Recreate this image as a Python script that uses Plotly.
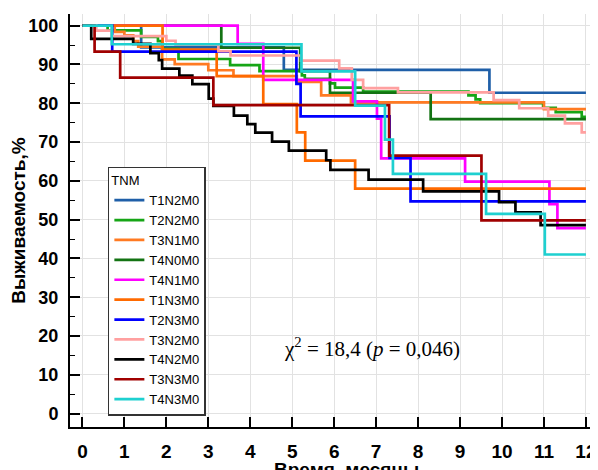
import plotly.graph_objects as go

# ---- data (months, survival %) ----
t_T1N2M0 = [0, 1.4, 4.8, 9.7, 12]
s_T1N2M0 = [100, 94.4, 88.6, 82.7, 82.7]

t_T2N2M0 = [0, 0.6, 1.4, 1.8, 1.9, 2.29, 3.52, 4.22, 5.23, 5.3, 5.9, 6.02, 6.69, 9.2, 9.37, 9.48, 10.98, 11.28, 11.9, 12]
s_T2N2M0 = [100, 98.8, 97.1, 96.0, 94.0, 91.4, 89.8, 88.3, 87.2, 86.3, 85.1, 84.0, 83.0, 82.0, 81.0, 80.0, 78.8, 77.7, 76.5, 76.5]

t_T3N1M0 = [0, 0.77, 1.0, 1.21, 1.33, 1.9, 2.2, 3.0, 3.6, 5.11, 5.69, 6.4, 11.0, 12]
s_T3N1M0 = [100, 98.4, 97.5, 96.0, 94.6, 91.3, 90.1, 88.5, 87.0, 85.5, 82.0, 80.2, 78.5, 78.5]

t_T4N0M0 = [0, 3.31, 5.19, 5.9, 8.3, 12]
s_T4N0M0 = [100, 94.3, 88.3, 82.7, 75.9, 75.9]

t_T4N1M0 = [0, 3.7, 4.31, 6.45, 7.02, 7.12, 9.12, 11.13, 11.32, 12]
s_T4N1M0 = [100, 95.3, 86.0, 80.5, 76.0, 65.8, 59.8, 54.0, 47.8, 47.8]

t_T1N3M0 = [0, 1.91, 3.2, 4.31, 5.11, 5.31, 6.5, 12]
s_T1N3M0 = [100, 93.8, 87.0, 79.8, 72.5, 65.2, 58.0, 58.0]

t_T2N3M0 = [0, 0.71, 5.1, 5.2, 7.32, 7.82, 12]
s_T2N3M0 = [100, 93.3, 85.0, 76.6, 65.9, 54.7, 54.7]

t_T3N2M0 = [0, 0.33, 0.70, 2.0, 2.22, 3.24, 3.53, 5.21, 6.12, 6.42, 6.69, 7.52, 9.8, 10.41, 11.1, 11.5, 11.9, 12]
s_T3N2M0 = [100, 98.7, 97.3, 96.1, 95.1, 93.4, 92.3, 91.0, 89.0, 86.0, 83.9, 82.8, 80.8, 78.7, 76.8, 74.8, 72.5, 72.5]

t_T4N2M0 = [0, 0.21, 1.21, 1.62, 1.82, 1.90, 2.31, 2.62, 3.01, 3.12, 3.61, 3.93, 4.12, 4.52, 4.92, 5.81, 5.91, 6.82, 8.12, 9.93, 10.32, 10.92, 12]
s_T4N2M0 = [100, 96.6, 95.3, 92.9, 91.1, 88.9, 87.1, 84.9, 81.2, 79.3, 76.8, 74.6, 72.4, 70.1, 67.8, 65.3, 62.8, 60.3, 57.3, 54.5, 51.9, 48.6, 48.6]

t_T3N3M0 = [0, 0.29, 0.9, 3.12, 7.31, 9.51, 12]
s_T3N3M0 = [100, 93.3, 86.6, 79.5, 66.5, 49.8, 49.8]

t_T4N3M0 = [0, 0.70, 5.22, 6.5, 7.21, 7.40, 9.62, 11.02, 12]
s_T4N3M0 = [100, 95.2, 88.2, 79.4, 70.6, 61.8, 51.5, 41.0, 41.0]

groups = ["T1N2M0", "T2N2M0", "T3N1M0", "T4N0M0", "T4N1M0", "T1N3M0",
          "T2N3M0", "T3N2M0", "T4N2M0", "T3N3M0", "T4N3M0"]
series = {
    "T1N2M0": (t_T1N2M0, s_T1N2M0),
    "T2N2M0": (t_T2N2M0, s_T2N2M0),
    "T3N1M0": (t_T3N1M0, s_T3N1M0),
    "T4N0M0": (t_T4N0M0, s_T4N0M0),
    "T4N1M0": (t_T4N1M0, s_T4N1M0),
    "T1N3M0": (t_T1N3M0, s_T1N3M0),
    "T2N3M0": (t_T2N3M0, s_T2N3M0),
    "T3N2M0": (t_T3N2M0, s_T3N2M0),
    "T4N2M0": (t_T4N2M0, s_T4N2M0),
    "T3N3M0": (t_T3N3M0, s_T3N3M0),
    "T4N3M0": (t_T4N3M0, s_T4N3M0),
}
colors = {
    "T1N2M0": "#1f5fa8", "T2N2M0": "#16a516", "T3N1M0": "#ff7a22",
    "T4N0M0": "#137313", "T4N1M0": "#ff00ff", "T1N3M0": "#ff6a00",
    "T2N3M0": "#0000ff", "T3N2M0": "#ffa0a0", "T4N2M0": "#000000",
    "T3N3M0": "#a00000", "T4N3M0": "#1ed0d0",
}

x_title = "Время, месяцы"
y_title = "Выживаемость,%"
stat_text = "χ<sup>2</sup> = 18,4 (<i>p</i> = 0,046)"

fig = go.Figure()
for g in groups:
    t, s = series[g]
    fig.add_trace(go.Scatter(x=t, y=s, mode="lines", name=g,
                             line=dict(color=colors[g], width=2.7, shape="hv")))

bold = dict(family="Liberation Sans, Arial, sans-serif", size=18, color="black", weight="bold")

# The page has an 8px body margin, so the figure is 590x462 to fill the 598x470 window.
fig.update_layout(
    width=590, height=462,
    margin=dict(l=62, r=2, t=6, b=43, autoexpand=False),
    paper_bgcolor="white", plot_bgcolor="white",
    font=dict(family="Liberation Sans, Arial, sans-serif", color="black"),
    showlegend=True,
    legend=dict(
        title=dict(text="TNM", font=dict(size=13, color="black")),
        font=dict(size=13, color="black"),
        x=0.072, y=0.63, xanchor="left", yanchor="top",
        bgcolor="white", bordercolor="#333333", borderwidth=1.5,
        tracegroupgap=0,
    ),
    xaxis=dict(
        range=[-0.296, 12.24], dtick=1, tick0=0, automargin=False,
        showline=True, linecolor="black", linewidth=2,
        ticks="inside", ticklen=10, tickwidth=1.5, tickcolor="black",
        showgrid=True, gridcolor="#e2e2e2", gridwidth=1, zeroline=False,
        tickfont=dict(bold, size=19), ticklabelstandoff=6,
    ),
    yaxis=dict(
        range=[-3.46, 103.0], dtick=10, tick0=0, automargin=False,
        showline=True, linecolor="black", linewidth=2,
        ticks="inside", ticklen=10, tickwidth=1.5, tickcolor="black",
        minor=dict(dtick=5, ticks="inside", ticklen=5, tickwidth=1, tickcolor="black", showgrid=False),
        showgrid=True, gridcolor="#e2e2e2", gridwidth=1, zeroline=False,
        tickfont=bold, ticklabelstandoff=6,
        title=dict(text=y_title, font=dict(bold, size=19), standoff=2),
    ),
    annotations=[
        dict(x=6.9, y=17.0, xref="x", yref="y", showarrow=False, text=stat_text,
             font=dict(family="Liberation Serif, Times New Roman, serif", size=21, color="black")),
        dict(x=6.3, y=0, xref="x", yref="paper", yanchor="top", yshift=-30,
             showarrow=False, text=x_title, font=dict(bold, size=19)),
    ],
)

fig.write_html("out.html")
